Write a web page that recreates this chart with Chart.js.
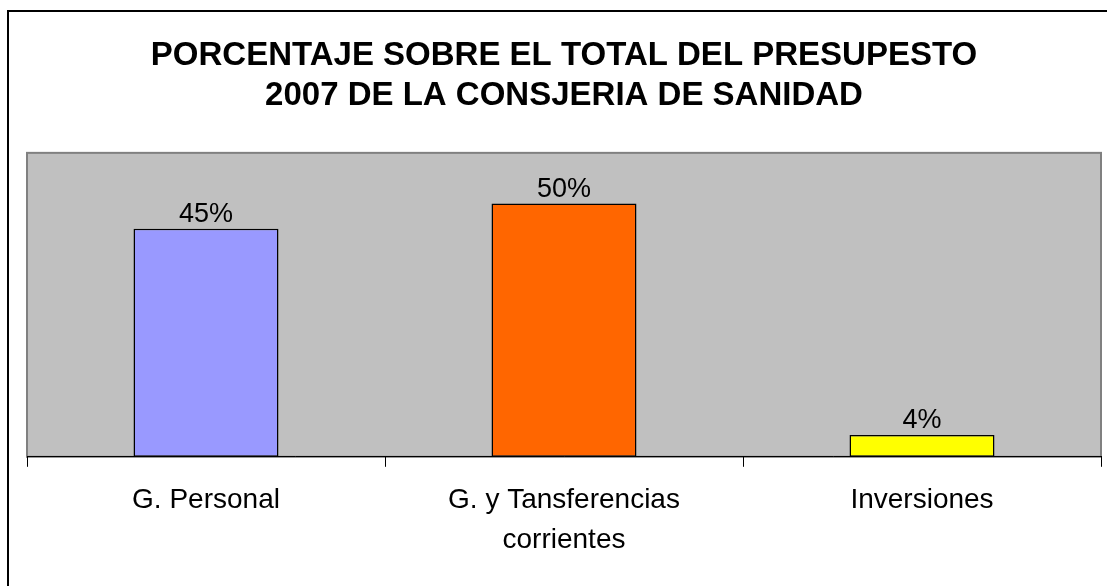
<!DOCTYPE html>
<html>
<head>
<meta charset="utf-8">
<script src="https://cdn.jsdelivr.net/npm/chart.js@4"></script>
<style>
  body { margin: 0; background: #fff; }
  .chart-box { width: 1107px; height: 586px; }
</style>
</head>
<body>
<div class="chart-box"><canvas id="budgetChart"></canvas></div>
<script>
const titleLines = ['PORCENTAJE SOBRE EL TOTAL DEL PRESUPESTO', '2007 DE LA CONSJERIA DE SANIDAD'];
const categories = [['G. Personal'], ['G. y Tansferencias', 'corrientes'], ['Inversiones']];
const shares = [0.45, 0.50, 0.043];
const barColors = ['#9999FF', '#FF6600', '#FFFF00'];

const fontFamily = "'Liberation Sans', Arial, sans-serif";

// Gray plot area and outer frame
const frame = {
  id: 'frame',
  beforeDraw(chart) {
    const { ctx, chartArea: a } = chart;
    ctx.save();
    ctx.fillStyle = '#C0C0C0';
    ctx.fillRect(a.left, a.top, a.right - a.left, a.bottom - a.top);
    ctx.strokeStyle = '#808080';
    ctx.lineWidth = 2;
    ctx.strokeRect(a.left, a.top, a.right - a.left, a.bottom - a.top);
    ctx.strokeStyle = '#000';
    ctx.lineWidth = 2;
    ctx.strokeRect(8, 11, 1300, 800);
    ctx.restore();
  }
};

// Percentage labels above bars
const valueLabels = {
  id: 'valueLabels',
  afterDatasetsDraw(chart) {
    const { ctx } = chart;
    const meta = chart.getDatasetMeta(0);
    ctx.save();
    ctx.font = '27px ' + fontFamily;
    ctx.fillStyle = '#000';
    ctx.textAlign = 'center';
    ctx.textBaseline = 'alphabetic';
    meta.data.forEach((bar, i) => {
      ctx.fillText(Math.round(shares[i] * 100) + '%', bar.x, bar.y - 7);
    });
    ctx.restore();
  }
};

new Chart(document.getElementById('budgetChart'), {
  type: 'bar',
  data: {
    labels: categories,
    datasets: [{
      data: shares,
      backgroundColor: barColors,
      borderColor: '#000',
      borderWidth: 1.5,
      borderSkipped: false,
      barPercentage: 0.405,
      categoryPercentage: 1
    }]
  },
  options: {
    responsive: true,
    maintainAspectRatio: false,
    animation: false,
    layout: {
      padding: { left: 27, right: 6, top: 12, bottom: 12 }
    },
    scales: {
      x: {
        grid: {
          offset: true,
          drawOnChartArea: false,
          drawTicks: true,
          tickLength: 10,
          color: '#000'
        },
        border: { color: '#000', width: 1 },
        ticks: {
          color: '#000',
          padding: 13,
          maxRotation: 0,
          font: { family: fontFamily, size: 28, lineHeight: 1.45 }
        }
      },
      y: {
        display: false,
        min: 0,
        max: 0.6
      }
    },
    plugins: {
      legend: { display: false },
      tooltip: { enabled: false },
      title: {
        display: true,
        text: titleLines,
        color: '#000',
        padding: { top: 24, bottom: 37 },
        font: { family: fontFamily, size: 33, weight: 'bold', lineHeight: 1.21 }
      }
    }
  },
  plugins: [frame, valueLabels]
});
</script>
</body>
</html>
